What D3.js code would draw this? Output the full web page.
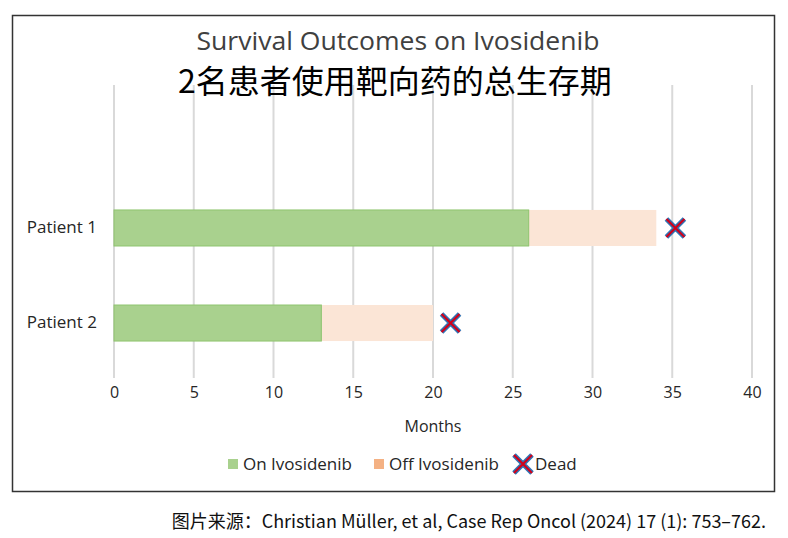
<!DOCTYPE html>
<html><head><meta charset="utf-8">
<script src="https://cdn.jsdelivr.net/npm/d3@7"></script>
<style>body{margin:0;background:#fff;}svg{display:block;}</style>
</head><body>
<svg id="c" width="788" height="538"></svg>
<script>
const patients = ["Patient 1", "Patient 2"];
const onDrug = [26, 13];
const offDrug = [8, 7];
const deathMonth = [35.2, 21.1];
const xTicks = [0, 5, 10, 15, 20, 25, 30, 35, 40];
const legendLabels = ["On Ivosidenib", "Off Ivosidenib", "Dead"];
const titleEn = "Survival Outcomes on Ivosidenib";
const titleZh = "2名患者使用靶向药的总生存期";
const sourceText = "图片来源：Christian Müller, et al, Case Rep Oncol (2024) 17 (1): 753–762.";

const svg = d3.select("#c");
const font = "'Open Sans', 'Noto Sans', sans-serif";
const x = d3.scaleLinear().domain([0, 40]).range([114, 752]);
const y = d3.scaleBand().domain(patients).range([180.5, 370.5]).paddingInner(0.621).paddingOuter(0.31);

// border
svg.append("rect").attr("x", 12.5).attr("y", 15.5).attr("width", 762).attr("height", 476)
  .attr("fill", "none").attr("stroke", "#333").attr("stroke-width", 1.5);

// gridlines
svg.append("g").selectAll("line").data(xTicks).join("line")
  .attr("x1", d => x(d)).attr("x2", d => x(d)).attr("y1", 85).attr("y2", 378)
  .attr("stroke", "#d9d9d9").attr("stroke-width", 2);

// axis labels
const ax = svg.append("g").attr("transform", "translate(0,378)")
  .call(d3.axisBottom(x).tickValues(xTicks).tickSize(0).tickPadding(9));
ax.select(".domain").remove();
ax.selectAll("text").attr("font-family", font).attr("font-size", 16).attr("fill", "#262626");

const ay = svg.append("g").attr("transform", "translate(99,0)")
  .call(d3.axisLeft(y).tickSize(0).tickPadding(2));
ay.select(".domain").remove();
ay.selectAll("text").attr("font-family", font).attr("font-size", 17).attr("fill", "#262626");

// bars
svg.append("g").selectAll("rect").data(patients).join("rect")
  .attr("x", (d, i) => x(onDrug[i]))
  .attr("y", d => y(d))
  .attr("width", (d, i) => x(onDrug[i] + offDrug[i]) - x(onDrug[i]))
  .attr("height", y.bandwidth())
  .attr("fill", "#fbe5d6");
svg.append("g").selectAll("rect").data(patients).join("rect")
  .attr("x", x(0))
  .attr("y", d => y(d))
  .attr("width", (d, i) => x(onDrug[i]) - x(0))
  .attr("height", y.bandwidth())
  .attr("fill", "#a9d18e").attr("stroke", "#8fc46f").attr("stroke-width", 1);

function drawX(g, cx, cy, s) {
  const p = `M${cx - s},${cy - s}L${cx + s},${cy + s}M${cx - s},${cy + s}L${cx + s},${cy - s}`;
  g.append("path").attr("d", p).attr("stroke", "#2e75b6").attr("stroke-width", 5).attr("fill", "none");
  g.append("path").attr("d", p).attr("stroke", "#d0021b").attr("stroke-width", 2.2).attr("fill", "none");
}
const mk = svg.append("g");
patients.forEach((p, i) => drawX(mk, x(deathMonth[i]), y(p) + y.bandwidth() / 2, 9));

// titles
svg.append("text").attr("x", 398).attr("y", 50).attr("text-anchor", "middle")
  .attr("font-family", "'Open Sans', sans-serif").attr("font-size", 26).attr("fill", "#404040")
  .attr("textLength", 403).attr("lengthAdjust", "spacingAndGlyphs").text(titleEn);
svg.append("text").attr("x", 395).attr("y", 93).attr("text-anchor", "middle")
  .attr("font-family", "'Noto Sans CJK SC', sans-serif").attr("font-size", 32).attr("fill", "#000")
  .text(titleZh);

// x title
svg.append("text").attr("x", 433).attr("y", 432).attr("text-anchor", "middle")
  .attr("font-family", font).attr("font-size", 16).attr("fill", "#262626").text("Months");

// legend
const lg = svg.append("g").attr("font-family", font).attr("font-size", 17).attr("fill", "#262626");
lg.append("rect").attr("x", 228).attr("y", 459).attr("width", 10).attr("height", 10).attr("fill", "#a9d18e");
lg.append("text").attr("x", 243).attr("y", 470).text(legendLabels[0]);
lg.append("rect").attr("x", 374).attr("y", 459).attr("width", 10).attr("height", 10).attr("fill", "#f4b183");
lg.append("text").attr("x", 389).attr("y", 470).text(legendLabels[1]);
drawX(lg, 523, 464, 9);
lg.append("text").attr("x", 535).attr("y", 470).text(legendLabels[2]);

// source
svg.append("text").attr("x", 766).attr("y", 528).attr("text-anchor", "end")
  .attr("font-family", "'Noto Sans CJK SC', sans-serif").attr("font-size", 18).attr("fill", "#111")
  .text(sourceText);
</script>
</body></html>
